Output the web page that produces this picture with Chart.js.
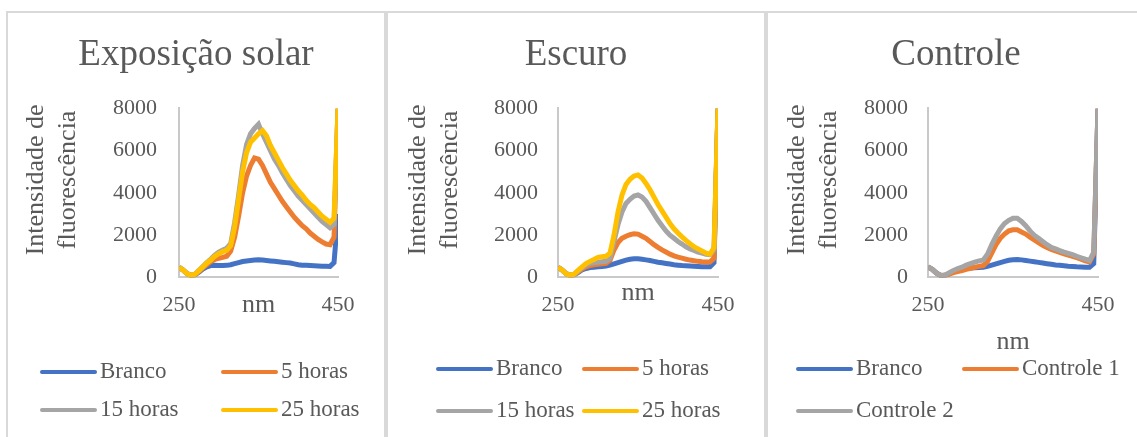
<!DOCTYPE html>
<html>
<head>
<meta charset="utf-8">
<script src="https://cdn.jsdelivr.net/npm/chart.js@4"></script>
<style>
  body { margin: 0; background: #fff; width: 1137px; height: 437px; overflow: hidden; position: relative; }
  .panel { position: absolute; top: 11px; width: 376px; height: 430px; border: 2px solid #d9d9d9; background: #fff; }
  .panel canvas { display: block; }
</style>
</head>
<body>
<div class="panel" style="left:6px"><canvas id="solarChart" width="376" height="424"></canvas></div>
<div class="panel" style="left:386px"><canvas id="escuroChart" width="376" height="424"></canvas></div>
<div class="panel" style="left:766px"><canvas id="controleChart" width="376" height="424"></canvas></div>
<script>
// wavelength (nm), every 5 nm
const wavelengths = [250, 255, 260, 265, 270, 275, 280, 285, 290, 295, 300, 305, 310, 315, 320, 325, 330, 335, 340, 345,
                     350, 355, 360, 365, 370, 375, 380, 385, 390, 395, 400, 405, 410, 415, 420, 425, 430, 435, 440, 445, 450];
const xTicks = [250, 450];
const yTicks = [0, 2000, 4000, 6000, 8000];

// Exposição solar
const solarBranco = [480, 350, 180, 100, 120, 250, 400, 500, 560, 580, 560, 560, 570, 600, 650, 700, 750, 780, 800, 820,
                     830, 820, 800, 780, 760, 740, 720, 700, 680, 640, 600, 580, 570, 560, 550, 540, 530, 530, 520, 700, 3000];
const solar5h = [480, 350, 180, 100, 130, 280, 450, 600, 750, 850, 900, 950, 1000, 1250, 1900, 2900, 4000, 4800, 5300, 5650,
                 5600, 5300, 4900, 4500, 4200, 3900, 3600, 3350, 3100, 2850, 2650, 2450, 2300, 2100, 1950, 1800, 1680, 1580, 1550, 1900, 8000];
const solar15h = [480, 350, 180, 100, 150, 330, 520, 700, 870, 1050, 1200, 1300, 1380, 1600, 2600, 3900, 5300, 6300, 6800, 7050,
                  7250, 6800, 6400, 6000, 5600, 5300, 4950, 4650, 4350, 4100, 3850, 3650, 3450, 3250, 3050, 2850, 2650, 2500, 2350, 2500, 8000];
const solar25h = [480, 350, 180, 100, 150, 320, 500, 680, 820, 1000, 1120, 1220, 1280, 1500, 2400, 3700, 5000, 5900, 6400, 6600,
                  6800, 6950, 6700, 6250, 5900, 5550, 5200, 4900, 4600, 4350, 4100, 3900, 3650, 3450, 3300, 3100, 2900, 2750, 2600, 2800, 8000];

// Escuro
const escuroBranco = [480, 350, 180, 100, 120, 230, 350, 420, 470, 480, 500, 520, 540, 580, 640, 700, 760, 820, 860, 880,
                      880, 860, 830, 800, 760, 720, 690, 660, 630, 600, 580, 560, 550, 540, 530, 520, 510, 510, 510, 700, 8000];
const escuro5h = [480, 350, 180, 100, 130, 260, 400, 500, 560, 600, 620, 640, 660, 800, 1300, 1650, 1850, 1950, 2020, 2070,
                  2050, 1950, 1850, 1700, 1550, 1420, 1300, 1200, 1100, 1020, 960, 910, 860, 820, 790, 760, 740, 730, 730, 900, 8000];
const escuro15h = [480, 350, 180, 100, 140, 300, 450, 580, 660, 700, 720, 740, 760, 900, 1700, 2500, 3100, 3500, 3700, 3850,
                   3900, 3800, 3600, 3300, 3000, 2700, 2450, 2200, 2000, 1850, 1700, 1580, 1450, 1350, 1280, 1200, 1150, 1100, 1080, 1300, 8000];
const escuro25h = [480, 350, 180, 100, 150, 330, 500, 650, 760, 850, 950, 980, 1000, 1150, 2000, 3100, 3900, 4400, 4650, 4800,
                   4850, 4700, 4450, 4150, 3800, 3450, 3150, 2850, 2550, 2300, 2100, 1920, 1750, 1600, 1450, 1350, 1250, 1150, 1100, 1400, 8000];

// Controle
const controleBranco = [500, 380, 200, 90, 100, 180, 280, 350, 400, 430, 450, 460, 470, 480, 520, 580, 640, 700, 760, 810,
                        840, 850, 830, 800, 770, 740, 710, 680, 650, 620, 590, 570, 550, 530, 520, 500, 490, 480, 480, 650, 8000];
const controle1 = [500, 380, 200, 90, 100, 160, 230, 280, 320, 380, 430, 480, 520, 560, 750, 1150, 1550, 1850, 2050, 2200,
                   2250, 2250, 2150, 2050, 1900, 1780, 1650, 1520, 1420, 1320, 1250, 1180, 1120, 1060, 1000, 930, 860, 780, 730, 1100, 8000];
const controle2 = [500, 380, 200, 90, 110, 220, 330, 420, 480, 580, 650, 720, 780, 820, 1100, 1550, 1950, 2300, 2550, 2700,
                   2800, 2800, 2650, 2450, 2200, 2000, 1850, 1700, 1550, 1420, 1350, 1270, 1200, 1140, 1080, 1000, 930, 860, 800, 1200, 8000];

const colors = ["#4472C4", "#ED7D31", "#A5A5A5", "#FFC000"];
const textColor = "#595959";

Chart.defaults.font.family = '"Liberation Serif", "Times New Roman", serif';
Chart.defaults.color = textColor;

// legend drawn as two fixed columns, like the Excel original
const gridLegend = {
    id: "gridLegend",
    afterDraw(chart, args, opts) {
        const ctx = chart.ctx;
        ctx.save();
        ctx.font = '23px "Liberation Serif", "Times New Roman", serif';
        ctx.textBaseline = "middle";
        ctx.textAlign = "left";
        chart.data.datasets.forEach((ds, i) => {
            const x = opts.cols[i % 2];
            const y = opts.rows[Math.floor(i / 2)];
            ctx.strokeStyle = ds.borderColor;
            ctx.lineWidth = 4;
            ctx.lineCap = "round";
            ctx.beginPath();
            ctx.moveTo(x, y);
            ctx.lineTo(x + 53, y);
            ctx.stroke();
            ctx.fillStyle = textColor;
            ctx.fillText(ds.label, x + 58, y);
        });
        ctx.restore();
    }
};

function makePanel(id, cfg) {
    const datasets = cfg.series.map((vals, i) => ({
        label: cfg.names[i],
        data: vals.map((v, j) => ({ x: wavelengths[j], y: v })),
        borderColor: colors[i],
        backgroundColor: colors[i],
        borderWidth: 5,
        pointRadius: 0,
        tension: 0,
        order: cfg.series.length - i
    }));

    return new Chart(document.getElementById(id), {
        type: "line",
        data: { datasets },
        plugins: [gridLegend],
        options: {
            responsive: false,
            animation: false,
            devicePixelRatio: 1,
            layout: { padding: { top: 0, left: 0, right: 0, bottom: cfg.bottomPad } },
            plugins: {
                legend: { display: false },
                tooltip: { enabled: false },
                title: {
                    display: true,
                    text: cfg.title,
                    color: textColor,
                    font: { size: 37, weight: "normal" },
                    padding: { top: 20, bottom: 31 }
                },
                gridLegend: { cols: cfg.legendCols, rows: cfg.legendRows }
            },
            scales: {
                x: {
                    type: "linear",
                    min: xTicks[0],
                    max: xTicks[xTicks.length - 1],
                    afterBuildTicks: s => { s.ticks = xTicks.map(v => ({ value: v })); },
                    ticks: { padding: 15, color: textColor, font: { size: 22 }, callback: v => String(v) },
                    grid: { display: false, drawTicks: false },
                    border: { display: true, color: "#c9c9c9", width: 2 },
                    title: {
                        display: true,
                        text: "nm",
                        color: textColor,
                        font: { size: 26 },
                        padding: cfg.xTitlePad
                    },
                    afterFit: s => { s.paddingRight = 46; }
                },
                y: {
                    min: yTicks[0],
                    max: yTicks[yTicks.length - 1],
                    afterBuildTicks: s => { s.ticks = yTicks.map(v => ({ value: v })); },
                    ticks: { padding: cfg.yTickPad, color: textColor, font: { size: 22 }, callback: v => String(v) },
                    grid: { display: false, drawTicks: false },
                    border: { display: true, color: "#c9c9c9", width: 2 },
                    title: {
                        display: true,
                        // leading spaces lift the rotated title a little, as in the original
                        text: ["    Intensidade de", "    fluorescência"],
                        color: textColor,
                        font: { size: 26 },
                        padding: { top: cfg.yTitlePad, bottom: 0 }
                    },
                    afterFit: s => { s.width = cfg.plotLeft; }
                }
            }
        }
    });
}

makePanel("solarChart", {
    title: "Exposição solar",
    names: ["Branco", "5 horas", "15 horas", "25 horas"],
    series: [solarBranco, solar5h, solar15h, solar25h],
    plotLeft: 171, yTickPad: 22, yTitlePad: 13,
    xTitlePad: { top: -44, bottom: 0 }, bottomPad: 116,
    legendCols: [34, 215], legendRows: [359, 397]
});

makePanel("escuroChart", {
    title: "Escuro",
    names: ["Branco", "5 horas", "15 horas", "25 horas"],
    series: [escuroBranco, escuro5h, escuro15h, escuro25h],
    plotLeft: 170, yTickPad: 20, yTitlePad: 15,
    xTitlePad: { top: -56, bottom: 12 }, bottomPad: 116,
    legendCols: [50, 196], legendRows: [356, 398]
});

makePanel("controleChart", {
    title: "Controle",
    names: ["Branco", "Controle 1", "Controle 2"],
    series: [controleBranco, controle1, controle2],
    plotLeft: 160, yTickPad: 20, yTitlePad: 14,
    xTitlePad: { top: -7, bottom: 0 }, bottomPad: 79,
    legendCols: [30, 196], legendRows: [356, 398]
});
</script>
</body>
</html>
